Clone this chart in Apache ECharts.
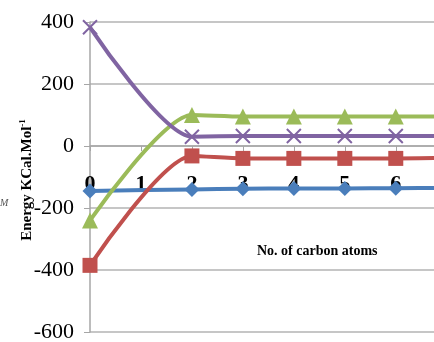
<!DOCTYPE html>
<html><head><meta charset="utf-8">
<script src="https://cdn.jsdelivr.net/npm/echarts@6/dist/echarts.min.js"></script>
<style>html,body{margin:0;padding:0;background:#fff}#c{width:434px;height:342px}</style>
</head><body><div id="c"></div>
<script>
var xValues = [0, 2, 3, 4, 5, 6, 7];
var tickLabels = ['0','1','2','3','4','5','6'];
var seriesNames = ['S1','S2','S3','S4'];
var blueVals = [-145, -140, -138, -137, -137, -136, -135];
var redVals = [-385, -32, -40, -40, -40, -40, -38];
var greenVals = [-240, 100, 95, 95, 95, 95, 95];
var purpleVals = [383, 30, 32, 32, 32, 32, 32];
var yTicks = [-600, -400, -200, 0, 200, 400];

function pairs(v){ return xValues.map(function(x,i){ return [x, v[i]]; }); }
var serif = '"Liberation Serif","DejaVu Serif",serif';
var chart = echarts.init(document.getElementById('c'));
var xPath = 'path://M0,0 L10,10 M10,0 L0,10';
var gridTop = 22, gridBottom = 10, H = 342;
var plotH = H - gridTop - gridBottom;
var zeroOffset = -plotH * (0 - yTicks[0]) / (yTicks[yTicks.length-1] - yTicks[0]);
function mk(name, data, color, symbol, size, extra){
  var s = {
    name: name, type: 'line', data: pairs(data), smooth: 0.25,
    symbol: symbol, symbolSize: size, showSymbol: true,
    lineStyle: {color: color, width: 4},
    itemStyle: {color: color},
    emphasis: {disabled: true}
  };
  if (extra) Object.assign(s, extra);
  return s;
}
chart.setOption({
  animation: false,
  grid: {left: 90, right: 0, top: gridTop, bottom: gridBottom, containLabel: false, outerBoundsMode: 'none'},
  xAxis: {
    type: 'value', min: 0, max: 6.75, interval: 1, offset: zeroOffset,
    axisLine: {onZero: false, lineStyle: {color: '#a6a6a6', width: 1.5}},
    axisTick: {show: true, inside: false, length: 5, lineStyle: {color: '#a6a6a6'}},
    splitLine: {show: false},
    axisLabel: {
      margin: 27, fontFamily: serif, fontWeight: 'bold', fontSize: 22, color: '#000',
      showMaxLabel: false,
      formatter: function(v){ return (Math.round(v)===v && v<tickLabels.length) ? tickLabels[v] : ''; }
    }
  },
  yAxis: {
    type: 'value', min: yTicks[0], max: yTicks[yTicks.length-1], interval: 200,
    axisLine: {show: true, onZero: false, lineStyle: {color: '#a6a6a6', width: 1.5}},
    axisTick: {show: true, length: 6, lineStyle: {color: '#a6a6a6'}},
    splitLine: {show: true, lineStyle: {color: '#b3b3b3', width: 1.5}},
    axisLabel: {margin: 16, fontFamily: serif, fontSize: 22, color: '#000'}
  },
  series: [
    mk(seriesNames[0], blueVals, '#4a7ebb', 'diamond', 15),
    mk(seriesNames[1], redVals, '#c0504d', 'rect', 15),
    mk(seriesNames[2], greenVals, '#9bbb59', 'triangle', 16),
    mk(seriesNames[3], purpleVals, '#8064a2', xPath, 14, {
      itemStyle: {color: '#8064a2', borderColor: '#8064a2', borderWidth: 2}
    })
  ],
  graphic: [
    {type: 'text', x: 27, y: 180, rotation: Math.PI / 2,
      style: {
        text: '{a|Energy KCal.Mol}{s|-1}', align: 'center', verticalAlign: 'middle',
        rich: {
          a: {fontFamily: serif, fontWeight: 'bold', fontSize: 15, fill: '#000', lineHeight: 18},
          s: {fontFamily: serif, fontWeight: 'bold', fontSize: 9, fill: '#000', verticalAlign: 'top', lineHeight: 18, padding: [0,0,7,0]}
        }
      }
    },
    {type: 'text', left: 257, top: 244, style: {text: 'No. of carbon atoms', font: 'bold 14px ' + serif, fill: '#000'}},
    {type: 'text', left: 0, top: 198, style: {text: 'M', font: 'italic 10px ' + serif, fill: '#555'}}
  ]
});
</script></body></html>
